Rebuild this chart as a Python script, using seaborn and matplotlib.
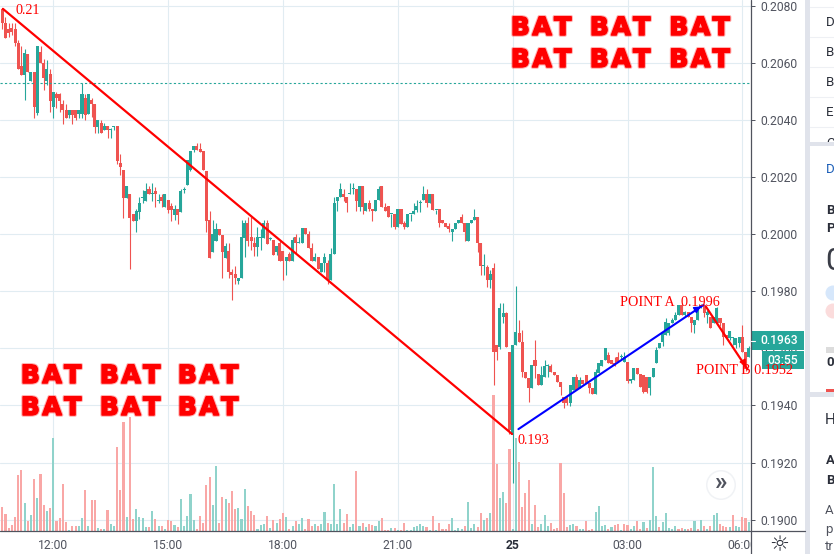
import numpy as np
import seaborn as sns
import matplotlib
matplotlib.use('Agg')
import matplotlib.pyplot as plt
import matplotlib.patheffects as pe
from matplotlib.patches import Rectangle, Ellipse
from matplotlib.lines import Line2D
from matplotlib.transforms import Affine2D

# 5 minute candles, prices in 1/10000
opens = [2078.8,2073.9,2071.8,2072.2,2071.8,2066.9,2059.1,2055.8,2063.2,2053.7,
 2057,2042.6,2064,2059.9,2053.7,2056.1,2044.7,2049.1,2049.1,2045.8,
 2043.7,2041.8,2043.7,2043.7,2042,2042,2047.9,2042.3,2047,2045.8,
 2037.7,2039,2036.7,2037.9,2036.7,2037.6,2037.9,2024.8,2022.5,2012.7,
 2014.1,2007,2004.7,2007.9,2012.7,2011.7,2015.8,2014,2015.1,2011.8,
 2012.9,2009.6,2012,2009.9,2006.7,2008.7,2007.9,2015.4,2017.2,2022.5,
 2029.5,2030.9,2029.8,2029.1,2022.1,2005,1993.8,1997.7,2002,1999.9,
 1991.7,1994.1,1986.8,1985.9,1983.5,1984.7,1998.8,2003.8,1998.9,1996.8,
 1995.6,1998.7,1998.8,2003.8,1998.5,1997.9,1993.8,1996.9,1994.2,1990.8,
 1993.1,1990.8,1999,1996.9,1996.9,2002.1,2000,1995.1,1990.8,1991.9,
 1986.9,1989.8,1989.8,1983.8,1993.1,2011.8,2013,2014.2,2013,2014.1,
 2015.8,2015.8,2009.7,2017,2008,2010.9,2008.8,2008,2012,2017,
 2009.7,2009.9,2007,2007,2002.7,2008.8,2003.9,2002.7,2007,2007,
 2008.5,2010.9,2012,2014.2,2010.9,2014.2,2008.5,2008.8,2005,2003.9,
 2002.9,2000.9,2001.9,2003.9,2006.2,2003.9,1997.8,2003.9,2005,2006.2,
 1996.9,1988.7,1988.4,1983.8,1988.1,1961.2,1960.6,1971.1,1972.3,1958.9,
 1929.6,1961.2,1965.3,1962.4,1951.8,1949.5,1946,1955.9,1950.9,1947.2,
 1950.1,1953.8,1953.8,1951.8,1950.7,1948.3,1943.1,1943.1,1940.7,1945.4,
 1950.1,1946,1948.9,1950.7,1947.7,1946,1943.9,1951.2,1953.8,1955.9,
 1957.7,1955.9,1954.8,1956.9,1956.9,1955.3,1955.3,1948.6,1948.9,1953,
 1950.9,1950.7,1950.1,1946,1949.8,1954.8,1960,1962.4,1964.7,1965.3,
 1968.8,1970,1971.7,1975.2,1971.7,1972.9,1971.1,1968.2,1970,1974.1,
 1975.2,1971.7,1971.1,1968.8,1968.8,1970.5,1968.8,1964.7,1963.5,1963.5,
 1961.2,1961.8,1963.9,1958.9,1957.1]
closes = [2073.9,2068.9,2070.6,2071,2066.9,2057.8,2055.8,2063.4,2057,2057,
 2044.7,2066,2059.9,2054.6,2057.9,2046.8,2049.8,2047.8,2046.8,2043.5,
 2040.9,2043.7,2041.8,2040.9,2043.7,2049.1,2041.8,2049.1,2045.6,2037.7,
 2040,2035.5,2037.9,2036.7,2036.9,2037.8,2025.7,2023.6,2012.7,2016.9,
 2005.8,2004.6,2008.1,2011,2012.9,2015.1,2014,2014.1,2014,2011.9,
 2011.7,2014.1,2008.5,2008.5,2008.7,2006.8,2015.1,2015.5,2025.9,2029.2,
 2030.9,2029.5,2028.9,2022.5,2004.6,1991.7,2000,2002,1999.9,1993.8,
 1995.8,1986.8,1985.7,1984.7,1984.7,1998.9,2003.8,1997.7,1997.7,1995.6,
 1998.9,1998.8,2003.8,1996.5,1998.6,1992.7,1995.8,1990.8,1990.8,1992.2,
 1990.8,1998,1996.9,1997,2002.1,2000,1995.1,1990.8,1991.9,1987.8,
 1989.8,1991.9,1983.8,1993.1,2010.9,2013.2,2015.9,2013,2010.9,2014.2,
 2015.9,2011.8,2017,2009.7,2010.9,2008.8,2008,2012,2015.9,2009.7,
 2008,2005.9,2007.1,2002.7,2008.8,2003.6,2002.7,2007,2007.1,2008.2,
 2009.9,2011,2014.2,2010.9,2014.2,2008.5,2008.6,2003.9,2003.9,2002.7,
 2001.9,2001.9,2003.9,2005,2003.9,2000.9,2003.9,2005,2006.2,1996.9,
 1988.7,1988.8,1983.8,1986.1,1958.9,1958.9,1974.1,1972.3,1960.6,1931.4,
 1961.2,1965.9,1962.4,1951.8,1949.5,1946,1954.2,1953.8,1947.2,1950.7,
 1953.8,1953.9,1951.8,1950.7,1948.3,1946.6,1941,1940.7,1947.2,1950.1,
 1945.4,1948.9,1947.5,1947.7,1946,1943.9,1951.8,1954.8,1955.9,1960,
 1954.8,1954.5,1953.8,1955.3,1957,1956.9,1948.6,1949.1,1953,1950.9,
 1946.6,1944.8,1944.8,1949.8,1953,1959.4,1961.8,1965.3,1969.4,1968.8,
 1970,1971.7,1975.2,1971.7,1972.9,1971.1,1968.8,1970,1974.1,1975.2,
 1972.3,1972.9,1967,1971.1,1974.1,1968.8,1964.1,1963.5,1966.1,1963.6,
 1963.5,1963.9,1958.9,1953,1960]
highs = [2078.8,2076.3,2073.9,2073.9,2073.9,2068.1,2066,2065.1,2063.2,2057,
 2057,2066,2066,2061.5,2061,2057.9,2049.8,2049.8,2049.6,2047,
 2045.8,2043.7,2043.7,2043.7,2043.7,2052.9,2049.1,2049.1,2047.9,2045.8,
 2040,2040,2039,2037.9,2037.3,2037.9,2037.9,2028,2022.5,2016.9,
 2014.1,2007,2009,2013.1,2015.5,2017.8,2017,2017.8,2016.6,2014.1,
 2014.1,2014.1,2012,2010.8,2010.2,2008.7,2015.8,2016.6,2025.9,2029.2,
 2030.9,2032,2032,2029.1,2022.1,2008.1,2005,2004,2002,1999.9,
 1996.8,1996.8,1987.8,1988.8,1984.7,2005,2005,2005.9,2005.9,1999.1,
 2002.4,2002,2005,2005,1998.9,1997.9,1995.8,1997.5,1994.2,1992.2,
 1993.9,1999,2000.1,1999,2002.1,2002.1,2001.2,1997.1,1993.3,1991.9,
 1989.8,1993.3,1991,1995.1,2013.2,2013.2,2017.9,2015.8,2013,2017.9,
 2017.9,2015.8,2017,2017,2010.9,2012,2008.8,2012,2017,2017,
 2010.9,2009.9,2007.1,2007,2008.8,2008.8,2004.5,2007,2007.1,2010.9,
 2012,2012,2017,2015.8,2014.2,2014.2,2008.6,2008.8,2005,2003.9,
 2003.9,2001.9,2003.9,2005,2007,2003.9,2003.9,2005,2008.8,2006.2,
 1996.9,1993.1,1989.1,1987.5,1989.9,1961.2,1975.8,1975.9,1972.9,1958.9,
 1961.2,1981.9,1970,1966.5,1951.8,1949.5,1954.2,1962.9,1950.9,1954,
 1955.9,1954.5,1954.5,1951.8,1950.7,1948.3,1943.1,1943.1,1947.2,1950.1,
 1950.9,1950,1948.9,1950.7,1947.7,1946,1952.8,1955,1955.9,1960,
 1958.9,1955.9,1957,1958.9,1958,1958.9,1955.3,1949.1,1953,1953,
 1950.9,1950.7,1950.1,1949.8,1953,1960.4,1961.8,1966,1970.5,1968.8,
 1970.5,1972.9,1975.2,1975.9,1973,1972.9,1971.1,1970,1974.1,1975.5,
 1975.6,1973.5,1971.1,1971.1,1974.6,1970.5,1968.8,1964.7,1966.1,1964,
 1963.5,1963.9,1968.2,1958.9,1961]
lows = [2071.8,2068.9,2069.2,2069.8,2066,2057.8,2055.8,2047,2057,2053.7,
 2040.9,2041.7,2059.9,2050.5,2052.3,2043,2040.9,2044.1,2042.9,2038.8,
 2040.9,2040.9,2038.8,2040,2040.9,2040.9,2040,2042.3,2041,2035.6,
 2035.6,2035.5,2036.7,2033.8,2033.8,2036.7,2024.6,2020.7,2005.8,2012.7,
 1987.8,2004.6,2000.9,2005.5,2010.8,2011.7,2014,2011.6,2009.6,2010.8,
 2009.6,2009.6,2007.5,2004.7,2005,2003.6,2007.9,2014.5,2017.2,2022,
 2029,2029.5,2028.9,2022.5,2000.9,1991.7,1993.8,1997.7,1999.9,1984.8,
 1991.7,1984.7,1977,1982.5,1982.4,1984.7,1991.9,1996,1994.4,1992.3,
 1992.3,1994.4,1998.8,1996.5,1998,1992.7,1992.7,1990.8,1983.8,1985.7,
 1990.8,1990.8,1993.3,1996.9,1996.9,2000,1995.1,1990.8,1990.8,1987.8,
 1986.9,1986.9,1982.6,1983.8,1993.1,2008,2013,2011.8,2007.8,2014.1,
 2014.2,2008,2008,2007,2008,2008,2004.8,2008,2012,2009.7,
 2008,2005.9,2002.7,2001.9,2002.7,2003.6,2001.9,2002.7,2004.8,2007,
 2007.8,2007.8,2012,2009.7,2010.9,2008.5,2007,2002.7,2003.9,2002.7,
 2000.9,1997.8,2001.9,2003.9,2003.9,1997.8,1997.8,2003.9,2005,1993.9,
 1985.7,1985.7,1981.4,1981.1,1947.2,1955.9,1959.9,1968.8,1960.6,1930,
 1912.9,1961.2,1962.4,1950.1,1949.5,1941.3,1946,1949.5,1947.2,1947.2,
 1950.1,1950,1951.8,1950.7,1948.3,1943.6,1939,1940,1939.8,1945.4,
 1945.4,1946,1947.5,1947.7,1944.2,1943.9,1943.9,1951.2,1953.8,1955.9,
 1954.8,1954.5,1953.8,1955.3,1956,1955.3,1947.9,1948,1948.9,1950.9,
 1946.6,1944.3,1944.3,1943.6,1949.8,1954.8,1960,1960.8,1964.7,1964.7,
 1968.8,1970,1971.7,1971.7,1971,1971.1,1965.9,1965.3,1970,1974.1,
 1971,1968.8,1967,1968.8,1968.8,1968,1961.2,1963.5,1963,1961.2,
 1960,1960.5,1958.9,1952,1957.1]

volumes = [72,51,9,18,42,168,183,84,30,48, 156,99,171,78,60,69,279,30,39,141,
 27,3,15,15,15,39,123,15,93,93, 9,6,6,63,21,15,252,123,327,42,
 343,36,66,42,39,12,12,60,36,15, 15,6,33,30,18,12,96,15,45,111,
 33,6,45,24,138,162,78,195,24,102, 96,84,120,66,69,36,126,75,60,48,
 6,18,21,45,9,33,24,36,54,42, 6,15,30,21,39,6,36,15,21,15,
 21,57,24,21,141,21,66,24,51,12, 21,180,15,24,12,21,18,15,30,39,
 3,3,9,9,3,3,24,3,3,12, 15,21,15,12,3,45,3,24,6,6,
 21,39,3,9,6,15,87,9,21,12, 54,33,39,54,408,201,99,117,84,246,
 6,279,207,72,114,153,21,78,12,21, 48,15,24,6,9,204,114,12,18,21,
 15,6,6,30,3,6,57,75,15,18, 6,12,18,21,3,21,18,6,15,30,
 6,27,9,33,192,45,12,27,54,9, 6,15,6,9,6,6,9,30,6,33,
 15,6,15,48,54,21,15,12,12,48, 15,12,42,39,27]
vol_side = ('rrrrrrrgrg' 'rgrrgrgrrr' 'rgrrggrgrr' 'grgrggrrrg'
            'rrggggrgrg' 'rgrrgrgggg' 'grrrrrggrr' 'grrrgggrrr'
            'gggrgrgrrg' 'rgrggrrrgr' 'ggrggggrrg' 'grgrgrrggr'
            'rrgrgrrggg' 'gggrgrgrrr' 'rggggrgggr' 'rgrgrrggrr'
            'ggrrrrgrrg' 'ggrrrrrrgg' 'rggrrrgggg' 'rgrrgrrggr'
            'rgrgggrggg' 'ggrrgrrgrg' 'rgrggrrrgr' 'ggrrg')

price_ticks = [2080,2060,2040,2020,2000,1980,1960,1940,1920,1900]
time_ticks = [16,52,88,124,160,196,232]
time_labels = ['12:00','15:00','18:00','21:00','25','03:00','06:00']
trend_x = [0.2,159.8]
trend_y = [2079,1930]
up_x = [161.8,219.8]
up_y = [1931.7,1975.2]
down_x = [220.6,233.6]
down_y = [1974.6,1952.7]
last_level = 2052.9

RED = '#ef5350'
GREEN = '#26a69a'
TEXT = '#50535e'
PANEL = '#e0e3eb'
W, H = 834, 554

sns.set_style('white')
plt.rcParams['font.family'] = ['Roboto', 'DejaVu Sans']

opens, closes = np.array(opens), np.array(closes)
highs, lows = np.array(highs), np.array(lows)
idx = np.arange(len(opens))
up = closes >= opens

fig = plt.figure(figsize=(W / 100, H / 100), dpi=100, facecolor='white')
rect = [0, (H - 531) / H, 751.4 / W, 531 / H]
xlim = (-0.71, 234.84)
ylim = (1896, 2082.1)

# price axes with the grid, volume above it, candles on top
ax = fig.add_axes(rect, zorder=0)
vol_ax = fig.add_axes(rect, zorder=1, facecolor='none')
candle_ax = fig.add_axes(rect, zorder=2, facecolor='none')

ax.set_xlim(xlim)
ax.set_ylim(ylim)
ax.set_xticks(time_ticks)
ax.set_xticklabels(time_labels)
ax.set_yticks(price_ticks)
ax.set_yticklabels([f'{p / 10000:.4f}' for p in price_ticks])
ax.yaxis.tick_right()
ax.grid(True, color='#e1ecf2', lw=0.8)
ax.tick_params(axis='both', length=3, width=0.7, color=TEXT, labelcolor=TEXT, labelsize=8.7, pad=3.5)
ax.tick_params(axis='x', pad=3)
ax.get_xticklabels()[4].set_color('#2a2e39')
ax.get_xticklabels()[4].set_fontweight('bold')
for s in ax.spines.values():
    s.set_visible(False)

sns.barplot(x=idx, y=volumes, hue=list(vol_side), palette={'r': '#f9a7a6', 'g': '#90d3cb'},
            width=0.66, dodge=False, native_scale=True, legend=False, saturation=1,
            linewidth=0, ax=vol_ax)
vol_ax.set_xlim(xlim)
vol_ax.set_ylim(0, 1593)
vol_ax.axis('off')

colors = np.where(up, GREEN, RED)
candle_ax.vlines(idx, lows, highs, colors=colors, lw=0.8)
candle_ax.bar(idx, np.maximum(np.abs(closes - opens), 0.35), bottom=np.minimum(opens, closes),
              width=0.95, color=colors, lw=0)
candle_ax.axhline(last_level, color=GREEN, lw=0.8, dashes=(2, 2))
sns.lineplot(x=trend_x, y=trend_y, color='#ff0000', lw=1.6, ax=candle_ax)
sns.lineplot(x=up_x, y=up_y, color='#0000ff', lw=1.5, ax=candle_ax)
sns.lineplot(x=down_x, y=down_y, color='#ff0000', lw=1.6, ax=candle_ax)
candle_ax.annotate('', xy=(up_x[1], up_y[1]), xytext=(up_x[1] - 3, up_y[1] - 2),
                   arrowprops=dict(arrowstyle='-|>', color='#0000ff', lw=1, mutation_scale=10))
candle_ax.annotate('', xy=(down_x[1], down_y[1]), xytext=(down_x[1] - 1.5, down_y[1] + 3),
                   arrowprops=dict(arrowstyle='-|>', color='#ff0000', lw=1, mutation_scale=10))
candle_ax.set_xlim(xlim)
candle_ax.set_ylim(ylim)
candle_ax.axis('off')

# everything outside the plot is placed in reference pixels
px = Affine2D().scale(1 / W, -1 / H).translate(0, 1) + fig.transFigure


def box(x0, y0, x1, y1, color, z=4):
    fig.add_artist(Rectangle((x0, y0), x1 - x0, y1 - y0, transform=px, fc=color, ec='none', zorder=z))


def label(x, y, s, **kw):
    kw.setdefault('va', 'center')
    kw.setdefault('zorder', 6)
    return fig.text(x / W, 1 - y / H, s, **kw)


def hline(x0, x1, y, color, lw=0.8, z=5):
    fig.add_artist(Line2D([x0, x1], [y, y], transform=px, color=color, lw=lw, zorder=z))


# hide the part of 06:00 that runs past the price scale
box(751.5, 533, 805, H, 'white')
fig.add_artist(Line2D([751.4, 751.4], [0, H], transform=px, color=TEXT, lw=0.9, zorder=5))
hline(0, 805, 531, TEXT, lw=0.9)
label(779, 545, '\u263c', ha='center', fontsize=16, color='#2a2e39', family='DejaVu Sans')

# annotations
serif = dict(family='Liberation Serif', color='#ff0000', fontsize=10.2)
label(15, 10, '0.21', **serif)
label(518, 441, '0.193', **serif)
label(620, 303, 'POINT A  0.1996', **serif)
label(696, 371, 'POINT B 0.1952', **serif)

rough = [pe.withStroke(linewidth=2.6, foreground='#ff0000', alpha=0.3),
         pe.withStroke(linewidth=1.1, foreground='#ff0000')]
for y, xs in [(28, [541, 620, 699.5]), (60, [541, 620, 699.5]),
              (376, [51, 130, 208]), (408, [51, 130, 208])]:
    for x in xs:
        label(x, y, 'B\u200aA\u200aT', ha='center', family='DejaVu Sans', fontweight='bold', fontsize=18,
              color='#ff0000', path_effects=rough)

# last price tags
box(751, 331, 804, 350, GREEN)
box(762, 351, 804, 369, GREEN)
hline(751, 755, 340.5, 'white')
label(760, 341, '0.1963', color='white', fontsize=8.7, fontweight='medium')
label(783, 360.5, '03:55', ha='center', color='white', fontsize=8.7, fontweight='medium')

# scroll button
fig.add_artist(Ellipse((721, 485), 30, 30, transform=px, fc='#f0f2f5', ec='none', zorder=4))
fig.add_artist(Ellipse((721, 485), 27, 27, transform=px, fc='white', ec='none', zorder=4))
label(721, 483, '\u00bb', ha='center', fontsize=18, color='#50535e', fontweight='bold')

# sidebar cut off at the right edge
box(805, 0, 810, H, PANEL)
box(810, 142, W, 146, PANEL, z=7)
box(810, 146, W, 152, 'white', z=7)
box(810, 392, W, 397, PANEL)
for y in [7, 37, 67, 97, 127]:
    hline(810, W, y, '#eef0f4')
side = dict(fontsize=9.5, color='#2a2e39')
for y, s in [(23, 'D'), (53, 'B'), (83, 'B'), (113, 'E'), (144, 'C')]:
    label(826, y, s, **side)
label(826, 170, 'D', fontsize=9.5, color='#1c5fb8')
label(826, 211, 'B', fontsize=9.5, color='#2a2e39', fontweight='bold')
label(826, 228, 'P', fontsize=9.5, color='#2a2e39', fontweight='bold')
label(825, 261, '0', fontsize=23, color='#3a3d47')
fig.add_artist(Ellipse((833, 293), 15, 15, transform=px, fc='#d6e7fb', ec='none', zorder=5))
fig.add_artist(Ellipse((833, 311), 15, 15, transform=px, fc='#fbdcdc', ec='none', zorder=5))
box(826, 347, W, 353, '#dcdcdc')
label(826, 363, '0', fontsize=9.5, color='#2a2e39', fontweight='bold')
box(826, 389, W, 392, RED)
label(825, 420, 'H', fontsize=11, color='#2a2e39')
label(826, 460, 'A', fontsize=9.5, color='#2a2e39', fontweight='bold')
label(826, 480, 'B', fontsize=9.5, color='#2a2e39', fontweight='bold')
label(825, 511, 'A', fontsize=9.5, color='#50535e')
label(825, 530, 'p', fontsize=9.5, color='#50535e')
label(825, 547, 'tr', fontsize=9.5, color='#50535e')

fig.savefig('out.png', dpi=100)
